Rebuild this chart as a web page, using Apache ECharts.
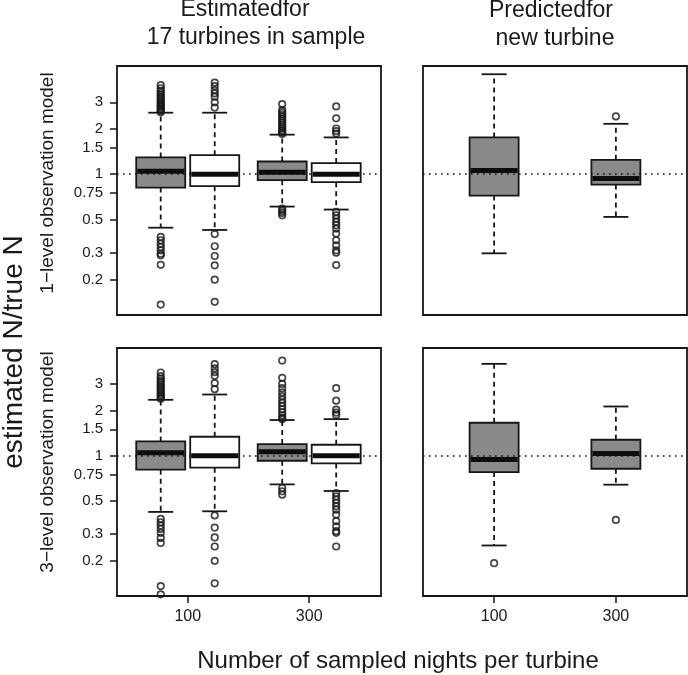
<!DOCTYPE html>
<html>
<head>
<meta charset="utf-8">
<script src="https://cdn.jsdelivr.net/npm/echarts@6/dist/echarts.min.js"></script>
<style>
  html, body { margin: 0; padding: 0; background: #fff; }
  #main { width: 688px; height: 675px; }
</style>
</head>
<body>
<div id="main"></div>
<script>
// x groups and where each box sits on the x scale
const groups = ['100', '300']
const posEstGrey = [1, 3.25]
const posEstWhite = [2, 4.25]
const posPred = [1, 2]
const yTicks = [0.2, 0.3, 0.5, 0.75, 1, 1.5, 2, 3]

// box stats: [lower whisker, Q1, median, Q3, upper whisker]
const lvl1EstGrey = [[0.441, 0.815, 1.047, 1.291, 2.56], [0.609, 0.912, 1.031, 1.214, 1.83]]
const lvl1EstWhite = [[0.426, 0.832, 1.0, 1.338, 2.56], [0.582, 0.885, 1.0, 1.184, 1.754]]
const lvl1Pred = [[0.298, 0.721, 1.058, 1.754, 4.61], [0.52, 0.853, 0.936, 1.246, 2.16]]
const lvl3EstGrey = [[0.422, 0.807, 1.047, 1.246, 2.36], [0.644, 0.926, 1.063, 1.196, 1.73]]
const lvl3EstWhite = [[0.426, 0.832, 1.0, 1.338, 2.56], [0.582, 0.889, 1.0, 1.184, 1.754]]
const lvl3Pred = [[0.252, 0.778, 0.945, 1.659, 4.10], [0.641, 0.819, 1.036, 1.278, 2.13]]

// outliers, one list per box
const lvl1EstGreyOut = [
    [2.58, 2.63, 2.68, 2.74, 2.8, 2.86, 2.93, 3.0, 3.08, 3.16, 3.25, 3.35, 3.46, 3.58, 3.72, 3.9,
     0.383, 0.364, 0.345, 0.328, 0.312, 0.296, 0.289, 0.25, 0.136],
    [1.85, 1.89, 1.94, 2.0, 2.06, 2.13, 2.2, 2.27, 2.34, 2.42, 2.5, 2.58, 2.67, 2.92,
     0.591, 0.57, 0.553, 0.533]
]
const lvl1EstWhiteOut = [
    [2.77, 3.0, 3.27, 3.44, 3.62, 3.85, 4.06, 0.40, 0.332, 0.286, 0.248, 0.199, 0.142],
    [1.86, 1.93, 2.01, 2.35, 2.82,
     0.561, 0.533, 0.507, 0.482, 0.458, 0.435, 0.403, 0.364, 0.337, 0.312, 0.301, 0.249]
]
const lvl1PredOut = [[], [2.42]]
const lvl3EstGreyOut = [
    [2.4, 2.46, 2.52, 2.58, 2.65, 2.72, 2.8, 2.88, 2.97, 3.06, 3.16, 3.27, 3.4, 3.59,
     0.379, 0.36, 0.342, 0.325, 0.306, 0.283, 0.262, 0.135, 0.119],
    [1.75, 1.79, 1.86, 1.95, 2.04, 2.14, 2.25, 2.37, 2.5, 2.65, 2.82, 3.01, 3.31, 4.31,
     0.609, 0.579, 0.55]
]
const lvl3EstWhiteOut = [
    [2.78, 3.05, 3.41, 3.61, 3.83, 4.08, 0.40, 0.332, 0.285, 0.248, 0.199, 0.141],
    [1.87, 1.94, 2.03, 2.33, 2.82,
     0.564, 0.536, 0.509, 0.484, 0.46, 0.437, 0.405, 0.366, 0.338, 0.314, 0.306, 0.248]
]
const lvl3PredOut = [[0.192], [0.373]]

const FONT = "'Liberation Sans', Arial, Helvetica, sans-serif"
const INK = '#161616'
const TEXT = '#1a1a1a'
const GREY = '#8a8a8a'
const BOX_W = 49
const STAPLE_W = 25

const chart = echarts.init(document.getElementById('main'), null, { renderer: 'canvas' })

const boxRenderer = fill => (params, api) => {
    const x = api.value(0)
    const lo = api.coord([x, api.value(1)])
    const q1 = api.coord([x, api.value(2)])
    const med = api.coord([x, api.value(3)])
    const q3 = api.coord([x, api.value(4)])
    const hi = api.coord([x, api.value(5)])
    const cx = med[0], hw = BOX_W / 2, sw = STAPLE_W / 2
    const dashed = { stroke: INK, lineWidth: 1.8, lineDash: [5, 4] }
    const solid = { stroke: INK, lineWidth: 1.8 }
    return {
        type: 'group',
        children: [
            { type: 'line', shape: { x1: cx, y1: q3[1], x2: cx, y2: hi[1] }, style: dashed },
            { type: 'line', shape: { x1: cx, y1: q1[1], x2: cx, y2: lo[1] }, style: dashed },
            { type: 'line', shape: { x1: cx - sw, y1: hi[1], x2: cx + sw, y2: hi[1] }, style: solid },
            { type: 'line', shape: { x1: cx - sw, y1: lo[1], x2: cx + sw, y2: lo[1] }, style: solid },
            { type: 'rect', shape: { x: cx - hw, y: q3[1], width: 2 * hw, height: q1[1] - q3[1] },
              style: { fill: fill, stroke: INK, lineWidth: 1.8 } },
            { type: 'line', shape: { x1: cx - hw + 1, y1: med[1], x2: cx + hw - 1, y2: med[1] },
              style: { stroke: '#0d0d0d', lineWidth: 5 } }
        ]
    }
}

const boxSeries = (idx, pos, stats, fill, withRef) => {
    const s = {
        type: 'custom',
        xAxisIndex: idx, yAxisIndex: idx,
        renderItem: boxRenderer(fill),
        encode: { x: 0, y: [1, 2, 3, 4, 5] },
        data: stats.map((st, i) => [pos[i]].concat(st)),
        z: 2,
        silent: true
    }
    if (withRef) {
        s.markLine = {
            silent: true, symbol: 'none', label: { show: false },
            lineStyle: { color: '#111', width: 1.6, type: [1.6, 4.4] },
            data: [{ yAxis: 1 }]
        }
    }
    return s
}

const outlierSeries = (idx, pos, outs) => ({
    type: 'scatter',
    xAxisIndex: idx, yAxisIndex: idx,
    symbol: 'circle', symbolSize: 6.5,
    itemStyle: { color: 'rgba(0,0,0,0)', borderColor: INK, borderWidth: 1.7 },
    data: outs.flatMap((list, i) => list.map(v => [pos[i], v])),
    z: 6,
    silent: true
})

const panels = [
    { left: 117, top: 66, height: 249, xmin: 0.19, xmax: 5.08 },
    { left: 423, top: 66, height: 249, xmin: 0.416, xmax: 2.584 },
    { left: 117, top: 348, height: 248, xmin: 0.19, xmax: 5.08 },
    { left: 423, top: 348, height: 248, xmin: 0.416, xmax: 2.584 }
]

const groupCenter = (p, i) => p === 1 || p === 3 ? posPred[i]
    : (posEstGrey[i] + posEstWhite[i]) / 2

const option = {
    animation: false,
    backgroundColor: '#fff',
    grid: panels.map(p => ({
        left: p.left, top: p.top, width: 264, height: p.height,
        show: true, borderColor: INK, borderWidth: 1.8, backgroundColor: 'transparent',
        containLabel: false, outerBoundsMode: 'none'
    })),
    xAxis: panels.map((p, k) => ({
        type: 'value', gridIndex: k, min: p.xmin, max: p.xmax,
        axisLine: { show: false },
        splitLine: { show: false },
        axisTick: {
            show: k >= 2, inside: false, length: 7,
            lineStyle: { color: INK, width: 1.5 },
            customValues: groups.map((g, i) => groupCenter(k, i))
        },
        axisLabel: {
            show: k >= 2, margin: 13, color: TEXT, fontSize: 16, fontFamily: FONT,
            customValues: groups.map((g, i) => groupCenter(k, i)),
            formatter: v => {
                const i = groups.findIndex((g, j) => Math.abs(groupCenter(k, j) - v) < 1e-6)
                return i >= 0 ? groups[i] : ''
            }
        }
    })),
    yAxis: panels.map((p, k) => ({
        type: 'log', logBase: 10, gridIndex: k, min: 0.116, max: 5.23,
        axisLine: { show: false },
        splitLine: { show: false },
        axisTick: {
            show: k % 2 === 0, inside: false, length: 7,
            lineStyle: { color: INK, width: 1.5 },
            customValues: yTicks
        },
        axisLabel: {
            show: k % 2 === 0, margin: 14, color: TEXT, fontSize: 15, fontFamily: FONT,
            customValues: yTicks,
            formatter: v => String(v)
        }
    })),
    series: [
        boxSeries(0, posEstGrey, lvl1EstGrey, GREY, true),
        boxSeries(0, posEstWhite, lvl1EstWhite, '#fff', false),
        outlierSeries(0, posEstGrey, lvl1EstGreyOut),
        outlierSeries(0, posEstWhite, lvl1EstWhiteOut),
        boxSeries(1, posPred, lvl1Pred, GREY, true),
        outlierSeries(1, posPred, lvl1PredOut),
        boxSeries(2, posEstGrey, lvl3EstGrey, GREY, true),
        boxSeries(2, posEstWhite, lvl3EstWhite, '#fff', false),
        outlierSeries(2, posEstGrey, lvl3EstGreyOut),
        outlierSeries(2, posEstWhite, lvl3EstWhiteOut),
        boxSeries(3, posPred, lvl3Pred, GREY, true),
        outlierSeries(3, posPred, lvl3PredOut)
    ],
    graphic: [
        { type: 'text', x: 245, y: 10, style: { text: 'Estimatedfor', font: `23px ${FONT}`, fill: TEXT, textAlign: 'center', textVerticalAlign: 'middle' } },
        { type: 'text', x: 256, y: 38, style: { text: '17 turbines in sample', font: `23px ${FONT}`, fill: TEXT, textAlign: 'center', textVerticalAlign: 'middle' } },
        { type: 'text', x: 551, y: 11, style: { text: 'Predictedfor', font: `23px ${FONT}`, fill: TEXT, textAlign: 'center', textVerticalAlign: 'middle' } },
        { type: 'text', x: 555, y: 39, style: { text: 'new turbine', font: `23px ${FONT}`, fill: TEXT, textAlign: 'center', textVerticalAlign: 'middle' } },
        { type: 'text', x: 48, y: 183, rotation: Math.PI / 2, style: { text: '1\u2212level observation model', font: `19px ${FONT}`, fill: TEXT, textAlign: 'center', textVerticalAlign: 'middle' } },
        { type: 'text', x: 48, y: 462, rotation: Math.PI / 2, style: { text: '3\u2212level observation model', font: `19px ${FONT}`, fill: TEXT, textAlign: 'center', textVerticalAlign: 'middle' } },
        { type: 'text', x: 14, y: 352, rotation: Math.PI / 2, style: { text: 'estimated N/true N', font: `28px ${FONT}`, fill: TEXT, textAlign: 'center', textVerticalAlign: 'middle' } },
        { type: 'text', x: 398, y: 661, style: { text: 'Number of sampled nights per turbine', font: `24px ${FONT}`, fill: TEXT, textAlign: 'center', textVerticalAlign: 'middle' } }
    ]
}

chart.setOption(option)
</script>
</body>
</html>
